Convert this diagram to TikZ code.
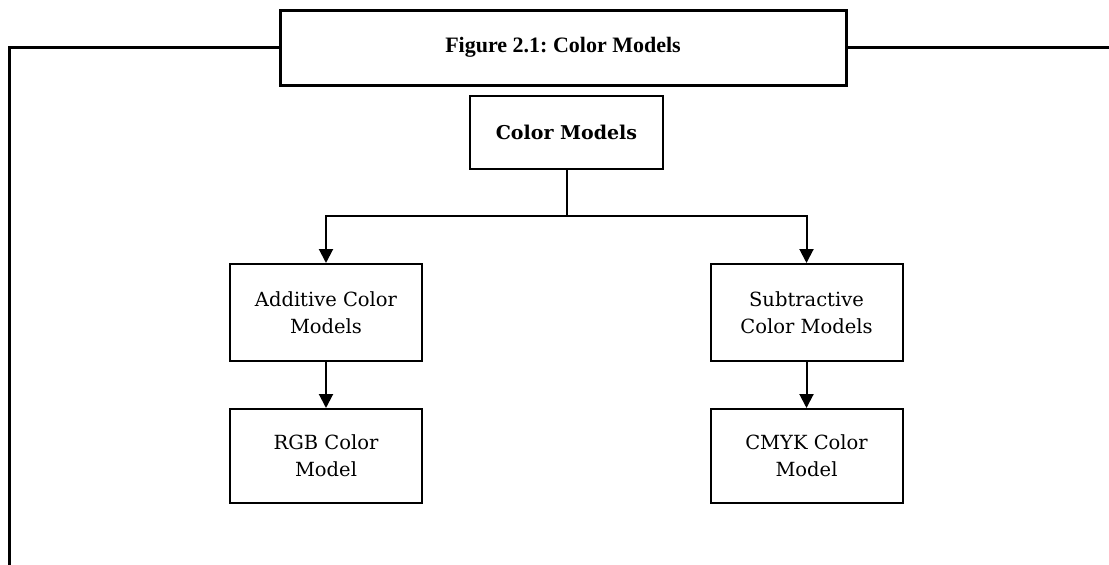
\documentclass[tikz,border=0pt]{standalone}
\usepackage{fontspec}
\setmainfont{Liberation Serif}
\newfontfamily\slabfont{DejaVu Serif}
\usetikzlibrary{arrows.meta}
\frenchspacing
\begin{document}
\begin{tikzpicture}[x=1pt,y=-1pt,
  modelbox/.style={draw,line width=2pt,minimum width=192pt,align=center,
    font=\slabfont\fontsize{19.5}{27}\selectfont},
  link/.style={line width=2pt},
  arrowlink/.style={line width=2pt,-{Triangle[length=14pt,width=14pt]}}]
\useasboundingbox (0,0) rectangle (1109,565);
\node[draw,line width=3pt,minimum width=566pt,minimum height=75pt,
  font=\bfseries\fontsize{22}{26}\selectfont] (caption) at (563,47.5) {Figure 2.1: Color Models};
\coordinate (topleft) at (9.5,47.5);
\coordinate (botleft) at (9.5,570);
\coordinate (topright) at (1115,47.5);
\draw[line width=3pt] (caption.west) -- (topleft) -- (botleft);
\draw[line width=3pt] (caption.east) -- (topright);
\node[modelbox,minimum width=193pt,minimum height=73pt,font=\slabfont\bfseries\fontsize{19}{27}\selectfont] (root) at (566.5,132.5) {Color Models};
\node[modelbox,minimum height=97pt] (additive) at (326,312.5) {Additive Color\\Models};
\node[modelbox,minimum height=97pt] (subtractive) at (806.5,312.5) {Subtractive\\Color Models};
\node[modelbox,minimum height=94pt] (rgb) at (326,456) {RGB Color\\Model};
\node[modelbox,minimum height=94pt] (cmyk) at (806.5,456) {CMYK Color\\Model};
\coordinate (split) at (566.5,216);
\draw[link] (root) -- (split);
\draw[arrowlink] (split) -| (additive);
\draw[arrowlink] (split) -| (subtractive);
\draw[arrowlink] (additive) -- (rgb);
\draw[arrowlink] (subtractive) -- (cmyk);
\end{tikzpicture}
\end{document}
